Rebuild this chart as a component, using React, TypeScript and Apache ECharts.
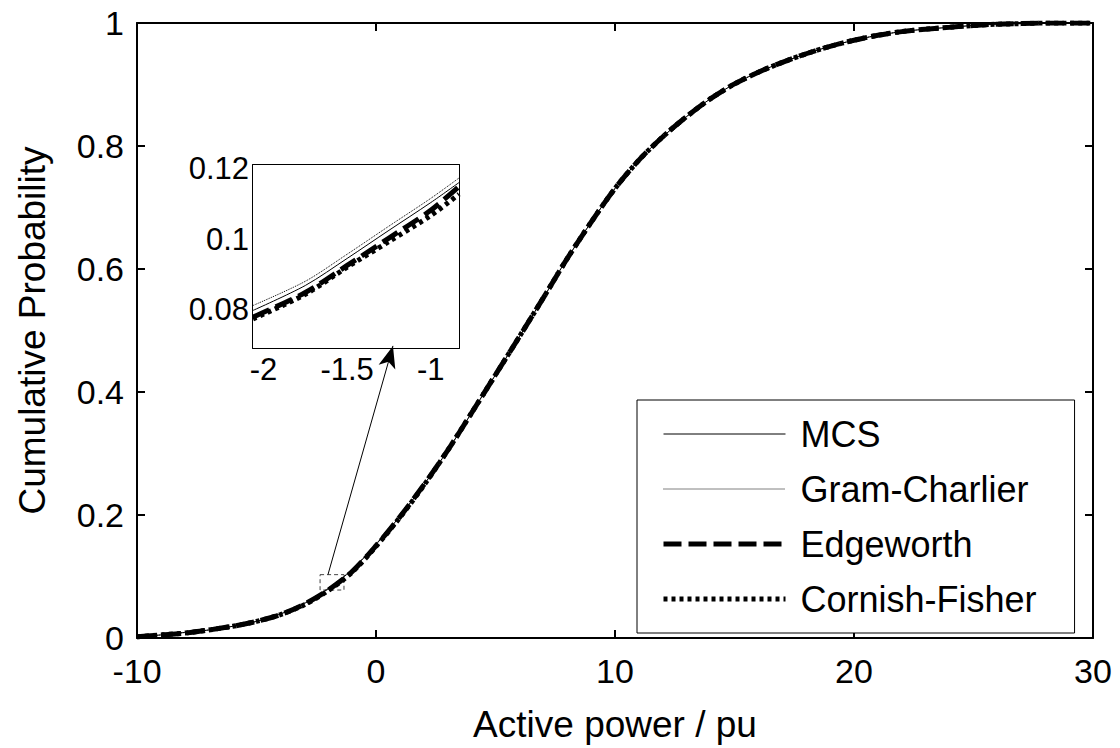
import React, { useEffect, useRef } from "react";
import * as echarts from "echarts";

// ---------- data ----------
const xMain = [-10, -9, -8, -7, -6, -5, -4, -3, -2, -1, 0, 1, 2, 3, 4, 5, 6, 7, 8, 9, 10, 11, 12, 13, 14, 15, 16, 17, 18, 19, 20, 21, 22, 23, 24, 25, 26, 27, 28, 29, 30];
const mcsMain = [0.002, 0.005, 0.009, 0.013, 0.019, 0.027, 0.039, 0.056, 0.08, 0.111, 0.152, 0.198, 0.249, 0.305, 0.366, 0.428, 0.49, 0.553, 0.617, 0.676, 0.731, 0.777, 0.815, 0.848, 0.877, 0.901, 0.92, 0.936, 0.95, 0.962, 0.972, 0.98, 0.986, 0.99, 0.993, 0.996, 0.998, 0.999, 1, 1, 1];
const gcMain = [0.002, 0.005, 0.009, 0.013, 0.019, 0.027, 0.039, 0.057, 0.081, 0.112, 0.153, 0.198, 0.249, 0.305, 0.366, 0.428, 0.49, 0.553, 0.617, 0.676, 0.731, 0.777, 0.815, 0.848, 0.877, 0.901, 0.92, 0.936, 0.95, 0.962, 0.972, 0.98, 0.986, 0.99, 0.993, 0.996, 0.998, 0.999, 1, 1, 1];
const ewMain = [0.002, 0.005, 0.008, 0.013, 0.019, 0.027, 0.038, 0.055, 0.078, 0.108, 0.15, 0.197, 0.249, 0.305, 0.366, 0.428, 0.49, 0.553, 0.617, 0.676, 0.731, 0.777, 0.815, 0.848, 0.877, 0.901, 0.92, 0.936, 0.95, 0.962, 0.972, 0.98, 0.986, 0.99, 0.993, 0.996, 0.998, 0.999, 1, 1, 1];
const cfMain = [0.002, 0.005, 0.008, 0.013, 0.019, 0.027, 0.038, 0.054, 0.077, 0.107, 0.149, 0.196, 0.248, 0.305, 0.366, 0.428, 0.49, 0.553, 0.617, 0.676, 0.731, 0.777, 0.815, 0.848, 0.877, 0.901, 0.92, 0.936, 0.95, 0.962, 0.972, 0.98, 0.986, 0.99, 0.993, 0.996, 0.998, 0.999, 1, 1, 1];

const xInset = [-2.063, -1.75, -1.5, -1.25, -1.0, -0.831];
const gcInset = [0.0811, 0.088, 0.0957, 0.1037, 0.1116, 0.1174];
const mcsInset = [0.0797, 0.0868, 0.0945, 0.1025, 0.1104, 0.1161];
const ewInset = [0.0778, 0.0848, 0.0925, 0.1003, 0.1082, 0.115];
const cfInset = [0.0773, 0.0843, 0.092, 0.0993, 0.1067, 0.1128];

const seriesNames = ["MCS", "Gram-Charlier", "Edgeworth", "Cornish-Fisher"];
const insetTicksX = [-2, -1.5, -1];
const insetTicksY = [0.08, 0.1, 0.12];

// zoom box & arrow (data coordinates on main axes)
const zoomBox = { x0: -2.34, x1: -1.34, y0: 0.078, y1: 0.103 };
const arrowFrom = [-2.01, 0.103];
const arrowTo = [0.71, 0.475];

const FONT = "Liberation Sans, Arial, sans-serif";

const pair = (xs: number[], ys: number[]) => xs.map((x, i) => [x, ys[i]]);

const styles: any = {
  MCS: { color: "#000", width: 1, type: "solid" },
  "Gram-Charlier": { color: "#000", width: 1, type: [1, 1] },
  Edgeworth: { color: "#000", width: 5, type: [18, 7] },
  "Cornish-Fisher": { color: "#000", width: 5, type: [4, 4] },
};

export default function App() {
  const ref = useRef<HTMLDivElement>(null);
  useEffect(() => {
    document.body.style.margin = "0";
    const chart = echarts.init(ref.current!, null, { renderer: "svg" });
    const axisLine = { show: true, onZero: false, lineStyle: { color: "#000", width: 2 } };
    const tick = (len: number) => ({ show: true, inside: true, length: len, lineStyle: { color: "#000", width: 2 } });

    const mainData = [mcsMain, gcMain, ewMain, cfMain];
    const insetData = [mcsInset, gcInset, ewInset, cfInset];

    const series: any[] = [];
    seriesNames.forEach((n, i) => {
      const s: any = {
        name: n,
        type: "line",
        xAxisIndex: 0,
        yAxisIndex: 0,
        data: pair(xMain, mainData[i]),
        symbol: "none",
        smooth: 0.3,
        lineStyle: styles[n],
        itemStyle: { color: "#000" },
        silent: true,
        z: 3,
      };
      if (i === 0) {
        s.markArea = {
          silent: true,
          itemStyle: { color: "rgba(0,0,0,0)", borderColor: "#444", borderWidth: 1, borderType: [4, 3] },
          label: { show: false },
          data: [[{ coord: [zoomBox.x0, zoomBox.y1] }, { coord: [zoomBox.x1, zoomBox.y0] }]],
        };
        s.markLine = {
          silent: true,
          symbol: ["none", "arrow"],
          symbolSize: [13, 22],
          label: { show: false },
          lineStyle: { color: "#000", width: 1, type: "solid" },
          data: [[{ coord: arrowFrom }, { coord: arrowTo }]],
        };
      }
      series.push(s);
    });
    seriesNames.forEach((n, i) => {
      series.push({
        name: n,
        type: "line",
        xAxisIndex: 1,
        yAxisIndex: 1,
        data: pair(xInset, insetData[i]),
        symbol: "none",
        smooth: 0.3,
        lineStyle: styles[n],
        itemStyle: { color: "#000" },
        silent: true,
        z: 10,
      });
    });

    chart.setOption({
      animation: false,
      backgroundColor: "#fff",
      textStyle: { fontFamily: FONT, color: "#000" },
      grid: [
        { left: 137, top: 23, width: 956, height: 619, show: false },
        { left: 253, top: 165, width: 206, height: 183, show: true, backgroundColor: "#fff", borderWidth: 0, z: 5 },
      ],
      legend: {
        orient: "vertical",
        left: 637,
        top: 400,
        data: seriesNames,
        itemWidth: 122,
        itemHeight: 30,
        itemGap: 19,
        padding: [16, 38, 16, 24],
        borderColor: "#000",
        borderWidth: 1,
        backgroundColor: "#fff",
        selectedMode: false,
        textStyle: { fontFamily: FONT, fontSize: 36, color: "#000", padding: [0, 0, 0, 10] },
        itemStyle: { opacity: 0 },
        lineStyle: { width: "inherit" },
        z: 20,
      },
      xAxis: [
        {
          gridIndex: 0, type: "value", min: -10, max: 30, interval: 10,
          axisLine, axisTick: tick(8), splitLine: { show: false },
          axisLabel: { fontSize: 34, color: "#000", fontFamily: FONT, margin: 16 },
          name: "Active power / pu", nameLocation: "middle", nameGap: 68,
          nameTextStyle: { fontSize: 37, color: "#000", fontFamily: FONT },
        },
        {
          gridIndex: 1, type: "value", min: -2.063, max: -0.831,
          axisLine, axisTick: { ...tick(5), customValues: insetTicksX }, splitLine: { show: false },
          axisLabel: { fontSize: 31, color: "#000", fontFamily: FONT, margin: 6, customValues: insetTicksX },
        },
        {
          gridIndex: 0, type: "value", min: -10, max: 30, interval: 10, position: "top",
          axisLine, axisTick: tick(8), axisLabel: { show: false }, splitLine: { show: false },
        },
        {
          gridIndex: 1, type: "value", min: -2.063, max: -0.831, position: "top",
          axisLine, axisTick: { ...tick(5), customValues: insetTicksX }, splitLine: { show: false },
          axisLabel: { show: false, customValues: insetTicksX },
        },
      ],
      yAxis: [
        {
          gridIndex: 0, type: "value", min: 0, max: 1, interval: 0.2,
          axisLine, axisTick: tick(8), splitLine: { show: false },
          axisLabel: { fontSize: 34, color: "#000", fontFamily: FONT, margin: 13 },
          name: "Cumulative Probability", nameLocation: "middle", nameGap: 86,
          nameTextStyle: { fontSize: 37, color: "#000", fontFamily: FONT },
        },
        {
          gridIndex: 1, type: "value", min: 0.069, max: 0.1211,
          axisLine, axisTick: { ...tick(5), customValues: insetTicksY }, splitLine: { show: false },
          axisLabel: { fontSize: 31, color: "#000", fontFamily: FONT, margin: 4, customValues: insetTicksY },
        },
        {
          gridIndex: 0, type: "value", min: 0, max: 1, interval: 0.2, position: "right",
          axisLine, axisTick: tick(8), axisLabel: { show: false }, splitLine: { show: false },
        },
        {
          gridIndex: 1, type: "value", min: 0.069, max: 0.1211, position: "right",
          axisLine, axisTick: { ...tick(5), customValues: insetTicksY }, splitLine: { show: false },
          axisLabel: { show: false, customValues: insetTicksY },
        },
      ],
      series,
    });
    return () => chart.dispose();
  }, []);
  return <div ref={ref} style={{ position: "absolute", left: 0, top: 0, width: 1120, height: 748 }} />;
}
